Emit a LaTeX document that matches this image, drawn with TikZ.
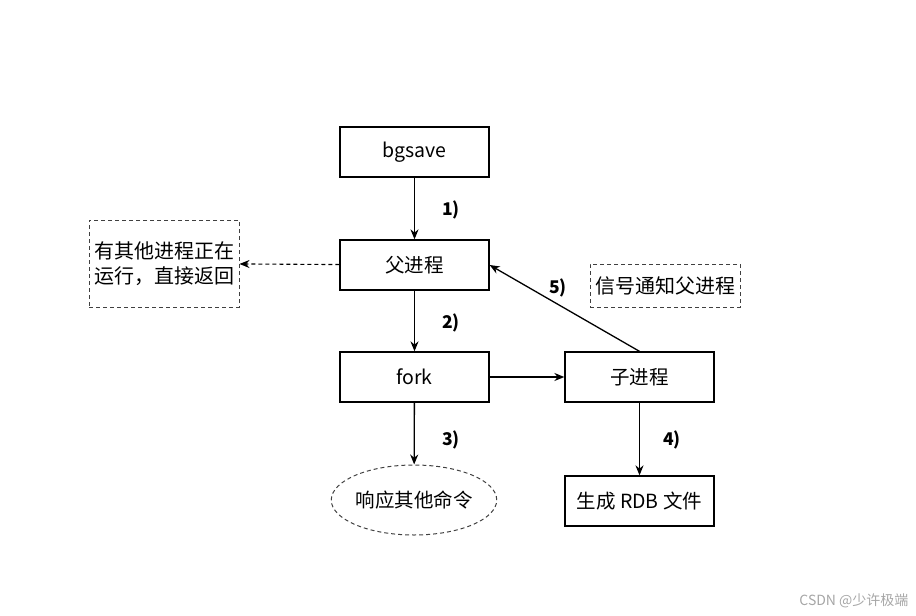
\documentclass[tikz,border=0pt]{standalone}
\usepackage{fontspec}
\setmainfont{Noto Sans CJK SC}
\newfontfamily\cjk{Noto Sans CJK SC}
\usetikzlibrary{arrows.meta,shapes.geometric}
\begin{document}
\begin{tikzpicture}[x=1pt,y=-1pt,
  proc/.style={draw, line width=1.3pt, minimum width=149pt, minimum height=50pt, inner sep=0pt, font=\fontsize{19.5}{22}\selectfont},
  dsh/.style={draw=black!75, line width=1pt, dash pattern=on 4pt off 3pt},
  note/.style={dsh, inner sep=0pt, align=left, font=\fontsize{20}{25}\selectfont},
  lab/.style={font=\fontsize{17.5}{19}\selectfont\bfseries},
  arr/.style={line width=1.3pt, -{Stealth[length=10pt,width=8pt]}}
]
\useasboundingbox (0,0) rectangle (916,616);
\node[proc] (bg) at (414.5,152) {bgsave};
\node[proc] (fu) at (414.5,265) {父进程};
\node[proc] (fork) at (414.5,377) {fork};
\node[proc] (zi) at (639.5,377) {子进程};
\node[proc] (rdb) at (639.5,501) {生成 RDB 文件};
\node[dsh, ellipse, minimum width=152pt, minimum height=70pt, inner sep=0pt, font=\fontsize{19.5}{22}\selectfont] (resp) at (414,500) {响应其他命令};
\node[note, minimum width=150pt, minimum height=87pt] (other) at (164,263.5) {有其他进程正在\\运行，直接返回};
\node[note, minimum width=150pt, minimum height=43pt] (sig) at (665,285.5) {信号通知父进程};
\draw[arr] (bg) -- (fu);
\draw[arr] (fu) -- (fork);
\draw[arr] (fork) -- (resp);
\draw[arr] (fork) -- (zi);
\draw[arr] (zi) -- (rdb);
\draw[arr] (zi.north) -- (fu.east);
\draw[arr, line width=1.1pt, dash pattern=on 4pt off 3pt] (fu) -- (other);
\node[lab] (l1) at (451,210) {1)};
\node[lab] (l2) at (451,323) {2)};
\node[lab] (l3) at (451,440) {3)};
\node[lab] (l4) at (672,440) {4)};
\node[lab] (l5) at (558,288) {5)};
\node[text=black!35, font=\fontsize{14}{16}\selectfont, anchor=east] (wm) at (912,601) {CSDN @少许极端};
\end{tikzpicture}
\end{document}
